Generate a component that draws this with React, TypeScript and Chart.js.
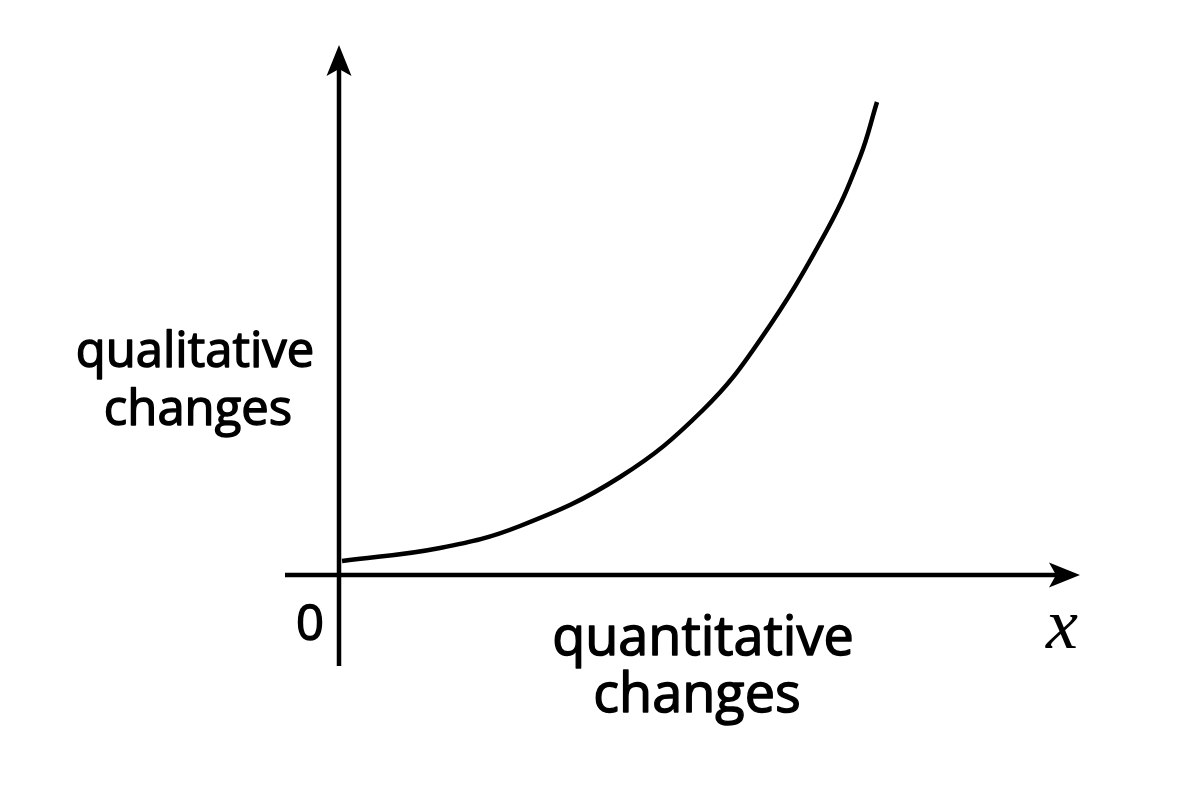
import React, { useEffect, useRef } from "react";
import { Chart, registerables } from "chart.js";

Chart.register(...registerables);

// Curve (units: 1 = 100 px, origin at the axes' crossing)
const curveX = [0.03, 1.01, 1.81, 2.81, 3.64, 4.21, 4.88, 5.21, 5.38];
const curveY = [0.14, 0.27, 0.49, 0.98, 1.65, 2.35, 3.45, 4.18, 4.73];

const yAxisLabel = ["qualitative", "changes"];
const xAxisLabel = ["quantitative", "changes"];
const originLabel = "0";
const xSymbol = "x";

const X_MIN = -0.54;
const X_MAX = 7.41;
const Y_MIN = -0.91;
const Y_MAX = 5.3;

const axesPlugin = {
  id: "axesArrows",
  afterDatasetsDraw(chart: any) {
    const { ctx, scales } = chart;
    const xs = scales.x;
    const ys = scales.y;
    const ox = xs.getPixelForValue(0);
    const oy = ys.getPixelForValue(0);
    const xEnd = xs.getPixelForValue(X_MAX);
    const xStart = xs.getPixelForValue(X_MIN);
    const yTop = ys.getPixelForValue(Y_MAX);
    const yBottom = ys.getPixelForValue(Y_MIN);
    ctx.save();
    ctx.strokeStyle = "#000";
    ctx.fillStyle = "#000";
    ctx.lineWidth = 4.5;
    ctx.lineCap = "butt";
    // horizontal axis
    ctx.beginPath();
    ctx.moveTo(xStart, oy);
    ctx.lineTo(xEnd - 24, oy);
    ctx.stroke();
    // vertical axis
    ctx.beginPath();
    ctx.moveTo(ox, yBottom);
    ctx.lineTo(ox, yTop + 24);
    ctx.stroke();
    // arrow heads
    const L = 31;
    const H = 12.5;
    const N = 7;
    ctx.beginPath();
    ctx.moveTo(xEnd, oy);
    ctx.lineTo(xEnd - L, oy - H);
    ctx.lineTo(xEnd - L + N, oy);
    ctx.lineTo(xEnd - L, oy + H);
    ctx.closePath();
    ctx.fill();
    ctx.beginPath();
    ctx.moveTo(ox, yTop);
    ctx.lineTo(ox - H, yTop + L);
    ctx.lineTo(ox, yTop + L - N);
    ctx.lineTo(ox + H, yTop + L);
    ctx.closePath();
    ctx.fill();

    // texts (slight stroke to match the medium weight)
    ctx.textAlign = "center";
    ctx.textBaseline = "alphabetic";
    ctx.lineWidth = 1.4;
    ctx.lineJoin = "round";
    const put = (t: string, x: number, y: number) => {
      ctx.fillText(t, x, y);
      ctx.strokeText(t, x, y);
    };
    ctx.font = "49px 'Open Sans'";
    put(yAxisLabel[0], 195, 367);
    put(yAxisLabel[1], 198, 425);
    ctx.font = "54px 'Open Sans'";
    put(xAxisLabel[0], 703, 655);
    put(xAxisLabel[1], 697, 712);
    ctx.font = "49px 'Open Sans'";
    put(originLabel, 310, 640);
    ctx.font = "italic 72px 'Liberation Serif'";
    ctx.fillText(xSymbol, 1062, 648);
    ctx.restore();
  },
};

export default function App() {
  const ref = useRef<HTMLCanvasElement | null>(null);
  useEffect(() => {
    if (!ref.current) return;
    const chart = new Chart(ref.current, {
      type: "scatter",
      data: {
        datasets: [
          {
            data: curveX.map((x, i) => ({ x, y: curveY[i] })),
            showLine: true,
            borderColor: "#000",
            borderWidth: 4.5,
            pointRadius: 0,
            tension: 0.4,
            fill: false,
            clip: false as any,
          },
        ],
      },
      options: {
        animation: false,
        responsive: false,
        devicePixelRatio: 1,
        layout: { padding: { left: 285, right: 120, top: 45, bottom: 134 } },
        plugins: { legend: { display: false }, tooltip: { enabled: false } },
        scales: {
          x: { type: "linear", min: X_MIN, max: X_MAX, display: false },
          y: { type: "linear", min: Y_MIN, max: Y_MAX, display: false },
        },
      },
      plugins: [axesPlugin],
    });
    return () => chart.destroy();
  }, []);
  return (
    <div style={{ position: "absolute", left: 0, top: 0, width: 1200, height: 800, background: "#fff" }}>
      <canvas ref={ref} width={1200} height={800} />
    </div>
  );
}
